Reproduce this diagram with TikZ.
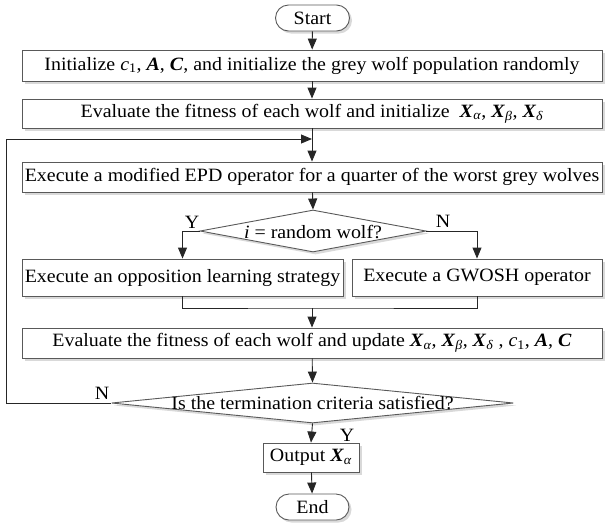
\documentclass[tikz,border=0pt]{standalone}
\usepackage{fontspec}
\setmainfont[FakeStretch=1.06]{Liberation Serif}
\usetikzlibrary{shapes.geometric,shapes.misc,arrows.meta,shadows}
\newcommand{\bX}{\textbf{\textit{X}}}
\newcommand{\bA}{\textbf{\textit{A}}}
\newcommand{\bC}{\textbf{\textit{C}}}
\newcommand{\sub}[1]{\textsubscript{\textit{#1}}}
\begin{document}
\begin{tikzpicture}[x=1pt,y=-1pt,
  every node/.style={font=\fontsize{18.8}{21}\selectfont},
  shd/.style={drop shadow={shadow xshift=2.5pt,shadow yshift=-2.5pt,fill=black!25,opacity=0.6}},
  box/.style={draw=black!65,line width=0.9pt,fill=white,inner sep=0pt,shd},
  term/.style={rounded rectangle,draw=black!65,line width=0.9pt,fill=white,inner sep=0pt,shd},
  dec/.style={diamond,draw=black!65,line width=0.9pt,fill=white,inner sep=0pt,shd},
  lbl/.style={inner sep=0pt},
  conn/.style={draw=black!85,line width=0.9pt},
  arr/.style={conn,-{Triangle[length=11pt,width=9pt]}}
]
\useasboundingbox (0,0) rectangle (612,523);

\node[term,minimum width=74pt,minimum height=26pt] (start) at (312.5,18) {Start};
\node[box,minimum width=580pt,minimum height=31pt] (b1) at (312,65.5)
  {Initialize \textit{c}\textsubscript{1}, \bA, \bC, and initialize the grey wolf population randomly};
\node[box,minimum width=580pt,minimum height=29pt] (b2) at (312,113.5)
  {Evaluate the fitness of each wolf and initialize~ \bX\sub{α}, \bX\sub{β}, \bX\sub{δ}};
\node[box,minimum width=580pt,minimum height=30pt] (b3) at (312,177)
  {Execute a modified EPD operator for a quarter of the worst grey wolves};
\node[dec,minimum width=226pt,minimum height=42pt] (d1) at (313,231) {};
\node[lbl] (d1t) at (313,232) {\textit{i} = random wolf?};
\node[box,minimum width=321pt,minimum height=37pt] (b4) at (182.5,277.5)
  {Execute an opposition learning strategy};
\node[box,minimum width=250pt,minimum height=37pt] (b5) at (477,277.5)
  {Execute a GWOSH operator};
\node[box,minimum width=580pt,minimum height=30pt] (b6) at (312,343)
  {Evaluate the fitness of each wolf and update \bX\sub{α}, \bX\sub{β}, \bX\sub{δ} , \textit{c}\textsubscript{1}, \bA, \bC};
\node[dec,minimum width=402pt,minimum height=40pt] (d2) at (312.5,403) {};
\node[lbl] (d2t) at (312.5,403) {Is the termination criteria satisfied?};
\node[box,minimum width=96pt,minimum height=29pt] (b7) at (311,457.5) {Output \bX\sub{α}};
\node[term,minimum width=73pt,minimum height=26pt] (end) at (312.5,507) {End};

\node[lbl] (y1) at (192,222) {Y};
\node[lbl] (n1) at (443,221) {N};
\node[lbl] (n2) at (102,393) {N};
\node[lbl] (y2) at (347,435) {Y};

\coordinate (loopj) at (312,139);
\coordinate (loopl) at (6,139);
\coordinate (merge) at (312,308);

\draw[arr] (start) -- (b1);
\draw[arr] (b1) -- (b2);
\draw[conn] (b2) -- (loopj);
\draw[arr] (loopj) -- (b3);
\draw[arr] (d2.west) -- (d2.west -| loopl) -- (loopl) -- (loopj);
\draw[arr] (b3) -- (d1.north);
\draw[arr] (d1.west) -| (b4.north);
\draw[arr] (d1.east) -| (b5.north);
\draw[conn] (b4.south) |- (merge) -| (b5.south);
\draw[arr] (merge) -- (b6.north);
\draw[arr] (b6) -- (d2.north);
\draw[arr] (d2.south) -- (b7.north);
\draw[arr] (b7) -- (end);
\end{tikzpicture}
\end{document}
